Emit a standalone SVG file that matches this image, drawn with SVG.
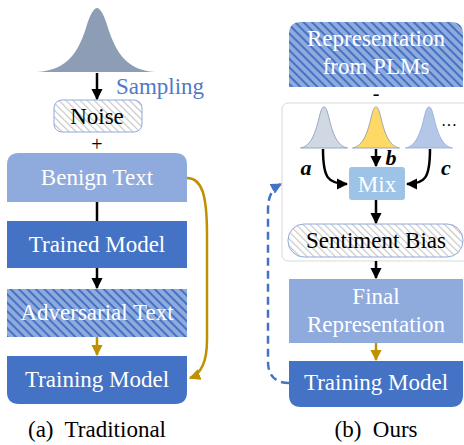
<svg xmlns="http://www.w3.org/2000/svg" width="464" height="445" viewBox="0 0 464 445">
<defs>
<style>
text{font-family:"Liberation Serif","DejaVu Serif","Times New Roman",serif}
.t{font-size:23px;text-anchor:middle}
.w{fill:#ffffff}
.k{fill:#000000}
.lt{fill:#8FAADC}
.dk{fill:#4472C4}
.ar{stroke:#000;stroke-width:2.5;fill:none}
.go{stroke:#BF9000;stroke-width:2.5;fill:none}
.lbl{font-size:22px;font-style:italic;font-weight:bold;text-anchor:middle}
</style>
<pattern id="hb" patternUnits="userSpaceOnUse" width="6" height="6" patternTransform="rotate(-45)">
<rect width="6" height="6" fill="#8FAADC"/>
<rect width="2" height="6" fill="#4472C4"/>
</pattern>
<pattern id="hg" patternUnits="userSpaceOnUse" width="5" height="5" patternTransform="rotate(-45)">
<rect width="5" height="5" fill="#ffffff"/>
<rect width="1.2" height="5" fill="#C8C8C8"/>
</pattern>
<marker id="mk" viewBox="0 0 10 10" refX="9" refY="5" markerWidth="4.5" markerHeight="4.5" orient="auto" markerUnits="strokeWidth">
<path d="M0 0L10 5L0 10Z" fill="#000"/>
</marker>
<marker id="mg" viewBox="0 0 10 10" refX="9" refY="5" markerWidth="4.5" markerHeight="4.5" orient="auto" markerUnits="strokeWidth">
<path d="M0 0L10 5L0 10Z" fill="#BF9000"/>
</marker>
<marker id="mb" viewBox="0 0 10 10" refX="9" refY="5" markerWidth="4.5" markerHeight="4.5" orient="auto" markerUnits="strokeWidth">
<path d="M0 0L10 5L0 10Z" fill="#4472C4"/>
</marker>
<path id="g" d="M-23.5 0 C-12 -2,-8 -18,-5 -30 C-3 -38,-2 -41,0 -41 C2 -41,3 -38,5 -30 C8 -18,12 -2,23.5 0 Z"/>
</defs>
<rect width="464" height="445" fill="#ffffff"/>

<g id="gauss-big">
<path d="M37 72 C68 70,78 52,86 28 C90 14,94 8,97 8 C100 8,104 14,108 28 C116 52,126 70,155 72 Z" fill="#8E9DB6"/>
</g>
<g id="sampling"><text class="t" x="160" y="94" fill="#4F79C8">Sampling</text></g>
<g id="noise">
<rect x="54" y="100" width="88" height="32" rx="8" fill="url(#hg)" stroke="#8FAADC" stroke-width="1"/>
<text class="t k" x="97" y="124">Noise</text>
</g>
<g id="plus"><text class="t k" x="97" y="151" style="font-size:20px">+</text></g>
<g id="benign">
<path d="M7 202 V165 Q7 153 19 153 H175 Q187 153 187 165 V202 Z" class="lt"/>
<text class="t w" x="97" y="185">Benign Text</text>
</g>
<g id="trained">
<rect x="7" y="221" width="180" height="47" class="dk"/>
<text class="t w" x="97" y="252">Trained Model</text>
</g>
<g id="adversarial">
<rect x="7" y="289" width="180" height="48" fill="url(#hb)"/>
<text class="t w" x="97" y="320">Adversarial Text</text>
</g>
<g id="training-left">
<path d="M7 356 H187 V392 Q187 404 175 404 H19 Q7 404 7 392 Z" class="dk"/>
<text class="t w" x="97" y="387">Training Model</text>
</g>
<g id="cap-a"><text class="t k" x="97" y="437" xml:space="preserve">(a)  Traditional</text></g>

<g id="plm">
<path d="M289 87 V34 Q289 22 301 22 H451 Q463 22 463 34 V87 Z" fill="url(#hb)"/>
<text class="t w" x="376" y="46">Representation</text>
<text class="t w" x="376" y="74">from PLMs</text>
</g>
<g id="minus"><text class="t k" x="376" y="100" style="font-size:20px">-</text></g>
<g id="container">
<rect x="282" y="103" width="190" height="158" rx="6" fill="#ffffff" stroke="#D9D9D9" stroke-width="1"/>
</g>
<g id="gauss-a"><use href="#g" x="324" y="148" fill="#D0D8E4" stroke="#8497B0" stroke-width="0.8"/></g>
<g id="gauss-b"><use href="#g" x="376" y="148" fill="#FFD966" stroke="#8497B0" stroke-width="0.8"/></g>
<g id="gauss-c"><use href="#g" x="429" y="148" fill="#B4C7E7" stroke="#8FAADC" stroke-width="0.8"/></g>
<g id="dots"><text class="t k" x="449" y="131" style="font-size:16px">···</text></g>
<g id="mix">
<rect x="349" y="167" width="56" height="33" rx="3" fill="#9DC3E6"/>
<text class="t w" x="377" y="192">Mix</text>
</g>
<g id="sentiment">
<rect x="288" y="224" width="175" height="33" rx="16" fill="url(#hg)" stroke="#8FAADC" stroke-width="1"/>
<text class="t k" x="376" y="248">Sentiment Bias</text>
</g>
<g id="final">
<rect x="289" y="279" width="174" height="64" class="lt"/>
<text class="t w" x="376" y="304">Final</text>
<text class="t w" x="376" y="332">Representation</text>
</g>
<g id="training-right">
<path d="M289 361 H463 V395 Q463 407 451 407 H301 Q289 407 289 395 Z" class="dk"/>
<text class="t w" x="376" y="390">Training Model</text>
</g>
<g id="cap-b"><text class="t k" x="376" y="437" xml:space="preserve">(b)  Ours</text></g>

<g id="labels">
<text class="lbl" x="306" y="175">a</text>
<text class="lbl" x="391" y="165">b</text>
<text class="lbl" x="446" y="175">c</text>
</g>

<g id="connectors">
<line x1="97" y1="73" x2="97" y2="99" class="ar" marker-end="url(#mk)"/>
<line x1="97" y1="202" x2="97" y2="221" class="ar"/>
<line x1="97" y1="268" x2="97" y2="288" class="ar" marker-end="url(#mk)"/>
<line x1="97" y1="337" x2="97" y2="355" class="go" marker-end="url(#mg)"/>
<path d="M187 178 C202 178,207 195,207 235 L207 340 C207 362,201 374,190 378" class="go" marker-end="url(#mg)"/>
<path d="M323 149 C323 178,328 184,347 184" class="ar" marker-end="url(#mk)"/>
<line x1="376" y1="149" x2="376" y2="166" class="ar" marker-end="url(#mk)"/>
<path d="M430 149 C430 178,425 184,407 184" class="ar" marker-end="url(#mk)"/>
<line x1="376" y1="200" x2="376" y2="223" class="ar" marker-end="url(#mk)"/>
<line x1="376" y1="261" x2="376" y2="278" class="ar" marker-end="url(#mk)"/>
<line x1="376" y1="343" x2="376" y2="360" class="go" marker-end="url(#mg)"/>
<path d="M289 383 C276 383,268 376,268 362 L268 210 C268 196,272 189,281 184" stroke="#4472C4" stroke-width="2.5" fill="none" stroke-dasharray="8 5" marker-end="url(#mb)"/>
</g>
</svg>
